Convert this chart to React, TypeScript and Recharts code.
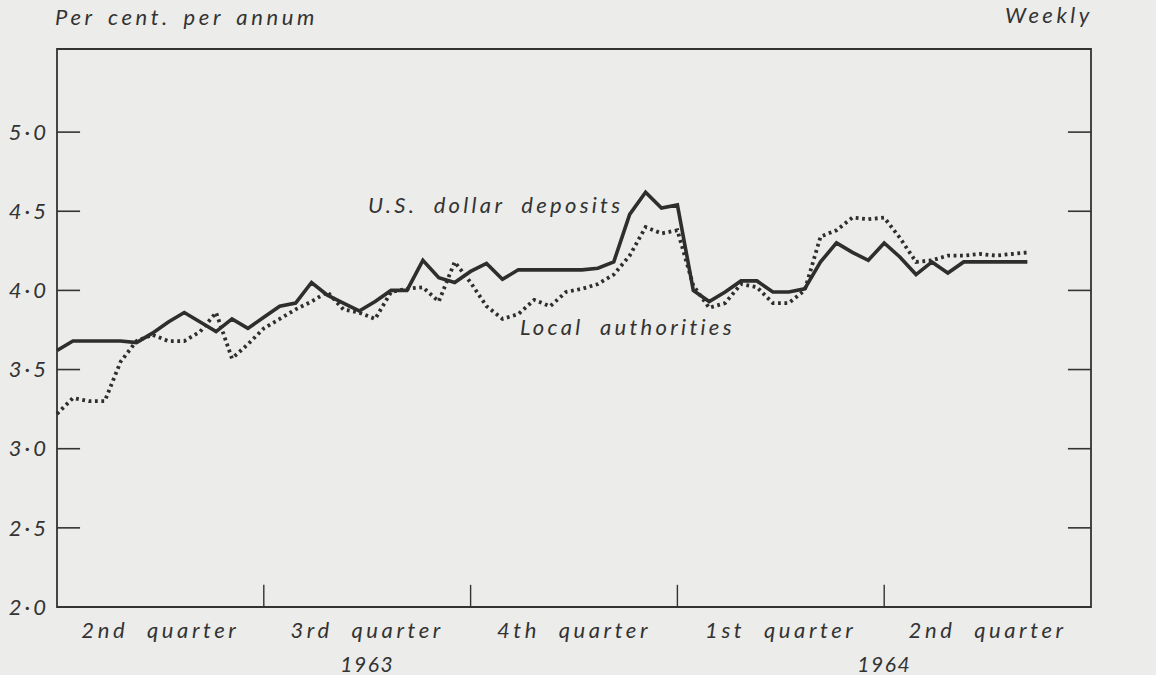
import React from 'react';
import { LineChart, Line, XAxis, YAxis, ReferenceLine, ReferenceArea, ReferenceDot } from 'recharts';

// weeks from the start of 2nd quarter 1963
const usdDeposits = [
  3.62, 3.68, 3.68, 3.68, 3.68, 3.67, 3.73, 3.8, 3.86, 3.8,
  3.74, 3.82, 3.76, 3.83, 3.9, 3.92, 4.05, 3.97, 3.92, 3.87,
  3.93, 4.0, 4.0, 4.19, 4.08, 4.05, 4.12, 4.17, 4.07, 4.13,
  4.13, 4.13, 4.13, 4.13, 4.14, 4.18, 4.48, 4.62, 4.52, 4.54,
  4.0, 3.93, 3.99, 4.06, 4.06, 3.99, 3.99, 4.01, 4.18, 4.3,
  4.24, 4.19, 4.3, 4.21, 4.1, 4.18, 4.11, 4.18, 4.18, 4.18,
  4.18, 4.18,
];
const localAuthorities = [
  3.22, 3.32, 3.3, 3.3, 3.55, 3.68, 3.72, 3.68, 3.68, 3.74,
  3.86, 3.57, 3.66, 3.76, 3.82, 3.88, 3.93, 3.99, 3.88, 3.86,
  3.82, 3.99, 4.01, 4.02, 3.93, 4.18, 4.05, 3.9, 3.82, 3.85,
  3.94, 3.9, 3.99, 4.01, 4.04, 4.1, 4.22, 4.4, 4.36, 4.38,
  4.03, 3.89, 3.92, 4.04, 4.02, 3.92, 3.92, 4.0, 4.34, 4.38,
  4.46, 4.45, 4.46, 4.33, 4.18, 4.19, 4.22, 4.22, 4.23, 4.22,
  4.23, 4.24,
];
const quarterLabels = ['2nd quarter', '3rd quarter', '4th quarter', '1st quarter', '2nd quarter'];
const quarterMids = [6.5, 19.5, 32.5, 45.5, 58.5];
const quarterBreaks = [13, 26, 39, 52];
const yearLabels = ['1963', '1964'];
const yearMids = [19.5, 52];
const yTicks = [2, 2.5, 3, 3.5, 4, 4.5, 5];

const data = usdDeposits.map((v, i) => ({ w: i, usd: v, local: localAuthorities[i] }));

const INK = '#333333';
const FONT = 'Lato, "Open Sans", sans-serif';
const TOP = 5.525;
const fmt = (v: number) => v.toFixed(1).replace('.', '·');

const txt = { fontFamily: FONT, fontStyle: 'italic', fill: INK } as const;

const YTick = ({ x, y, payload, anchor }: any) => (
  <text x={x} y={y} dy="0.35em" textAnchor={anchor} fontSize={22} letterSpacing={3} {...txt}>
    {fmt(payload.value)}
  </text>
);

const QTick = ({ x, y, payload, index }: any) => (
  <text x={x} y={y} dy="0.71em" textAnchor="middle" fontSize={22} letterSpacing={3.6} wordSpacing={10} {...txt}>
    {quarterLabels[index] ?? payload.value}
  </text>
);

const YearTick = ({ x, y, index }: any) => (
  <text x={x} y={y} dy="0.71em" textAnchor="middle" fontSize={21} letterSpacing={1.5} {...txt}>
    {yearLabels[index]}
  </text>
);

const SeriesLabel = (text: string, anchor: 'start' | 'end') => (props: any) => {
  const { viewBox } = props;
  const x = viewBox.x + viewBox.width / 2;
  const y = viewBox.y + viewBox.height / 2;
  return (
    <text x={x} y={y} dy="0.35em" textAnchor={anchor} fontSize={22} letterSpacing={3.3} wordSpacing={8} {...txt}>
      {text}
    </text>
  );
};

export default function App() {
  return (
    <div style={{ position: 'relative', width: 1156, height: 675, background: '#ececea' }}>
      <style>{`body{margin:0;background:#ececea}`}</style>
      <div style={{ position: 'absolute', left: 55, top: 3, fontFamily: FONT, fontStyle: 'italic', fontSize: 22, letterSpacing: 3.6, wordSpacing: 4, color: INK }}>
        Per cent. per annum
      </div>
      <div style={{ position: 'absolute', left: 1005, top: 1, fontFamily: FONT, fontStyle: 'italic', fontSize: 22, letterSpacing: 3.5, color: INK }}>
        Weekly
      </div>
      <LineChart width={1156} height={675} data={data} margin={{ top: 49, right: 0, bottom: 0, left: 0 }}>
        <XAxis xAxisId="q" dataKey="w" type="number" domain={[0, 65]} ticks={quarterMids} interval={0}
          height={38} tickSize={0} tickMargin={15} axisLine={false} tick={<QTick />} />
        <XAxis xAxisId="yr" dataKey="w" type="number" domain={[0, 65]} ticks={yearMids} interval={0}
          height={30} tickSize={0} tickMargin={12} axisLine={false} tick={<YearTick />} />
        <YAxis yAxisId="l" type="number" domain={[2, TOP]} ticks={yTicks} interval={0} width={57}
          tickSize={0} tickMargin={8} axisLine={false} tick={<YTick anchor="end" />} />
        <YAxis yAxisId="r" orientation="right" type="number" domain={[2, TOP]} ticks={yTicks} interval={0} width={65}
          tickSize={0} tickMargin={9} axisLine={false} tick={<YTick anchor="start" />} />

        <ReferenceArea xAxisId="q" yAxisId="l" x1={0} x2={65} y1={2} y2={TOP} fill="none" stroke={INK} strokeWidth={1.8} />
        {yTicks.slice(1).map((v) => (
          <ReferenceLine key={'l' + v} xAxisId="q" yAxisId="l" segment={[{ x: 0, y: v }, { x: 1.45, y: v }]} stroke={INK} strokeWidth={1.6} />
        ))}
        {yTicks.slice(1).map((v) => (
          <ReferenceLine key={'r' + v} xAxisId="q" yAxisId="l" segment={[{ x: 63.55, y: v }, { x: 65, y: v }]} stroke={INK} strokeWidth={1.6} />
        ))}
        {quarterBreaks.map((q) => (
          <ReferenceLine key={'q' + q} xAxisId="q" yAxisId="l" segment={[{ x: q, y: 2 }, { x: q, y: 2.14 }]} stroke={INK} strokeWidth={1.4} />
        ))}

        <Line xAxisId="q" yAxisId="l" dataKey="local" type="linear" stroke="#2e2e2e" strokeWidth={3.8}
          strokeDasharray="2.8 3.6" dot={false} isAnimationActive={false} />
        <Line xAxisId="q" yAxisId="l" dataKey="usd" type="linear" stroke="#2e2e2e" strokeWidth={3.6}
          strokeLinejoin="miter" dot={false} isAnimationActive={false} />

        <ReferenceDot xAxisId="q" yAxisId="l" x={35.6} y={4.54} r={0} fill="none" stroke="none"
          label={SeriesLabel('U.S. dollar deposits', 'end')} />
        <ReferenceDot xAxisId="q" yAxisId="l" x={29.1} y={3.77} r={0} fill="none" stroke="none"
          label={SeriesLabel('Local authorities', 'start')} />
      </LineChart>
    </div>
  );
}
